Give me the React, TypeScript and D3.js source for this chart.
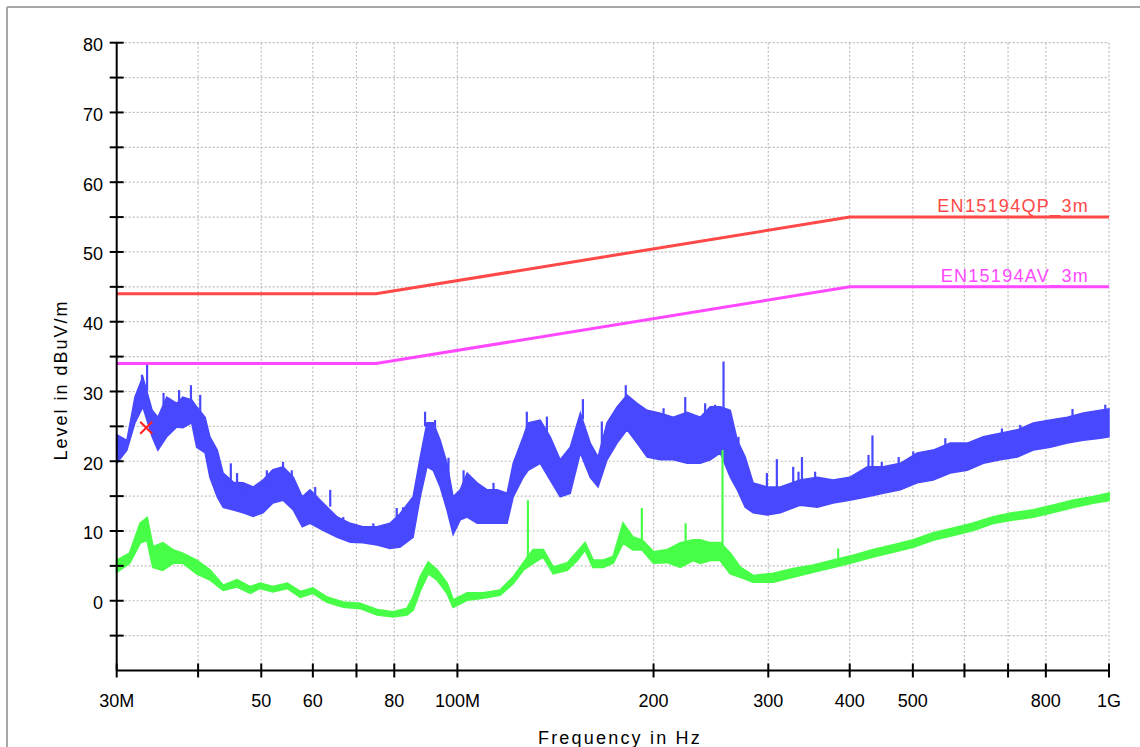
import * as d3 from "d3";

// frequency in MHz, level in dBuV/m
const qpLimit: [number, number][] = [[30, 44], [75, 44], [400, 55], [1000, 55]];
const avLimit: [number, number][] = [[30, 34], [75, 34], [400, 45], [1000, 45]];

// peak trace: [freq, low edge, high edge]
const peakBand: [number, number, number][] = [
  [30.0, 19.7, 23.8], [31.1, 21.6, 23.0], [32.0, 25.5, 29.2], [32.9, 27.8, 32.1],
  [34.0, 23.5, 27.3], [34.7, 21.6, 26.3], [35.8, 23.5, 29.2], [37.1, 24.9, 28.3],
  [37.9, 24.8, 29.2], [39.1, 25.5, 28.8], [39.8, 22.0, 27.8], [41.0, 21.2, 26.3],
  [41.7, 17.7, 23.5], [42.8, 14.9, 21.6], [43.7, 13.4, 18.3], [45.3, 13.0, 17.0],
  [46.9, 12.6, 16.9], [48.6, 12.1, 16.3], [50.3, 12.6, 17.3], [52.1, 14.0, 18.8],
  [54.0, 14.4, 19.2], [56.0, 13.0, 17.7], [57.8, 10.6, 14.9], [59.4, 11.1, 15.9],
  [62.2, 10.1, 14.0], [65.4, 9.1, 12.0], [68.5, 8.4, 11.1], [71.6, 8.3, 10.6],
  [75.3, 8.0, 10.6], [78.8, 7.5, 11.1], [81.7, 7.7, 12.5], [85.5, 9.1, 14.9],
  [87.7, 14.9, 20.6], [89.8, 19.2, 25.5], [91.8, 18.7, 25.5], [94.1, 16.3, 23.0],
  [96.4, 13.0, 19.7], [98.5, 9.5, 14.9], [101.0, 11.6, 15.9], [103.5, 12.0, 18.3],
  [107.2, 11.1, 16.9], [111.1, 11.1, 15.9], [115.1, 11.1, 15.9], [119.2, 11.1, 15.4],
  [121.8, 14.9, 19.7], [126.2, 17.7, 23.5], [128.4, 18.7, 25.5], [134.0, 19.7, 25.9],
  [138.8, 17.3, 23.5], [143.8, 14.9, 20.2], [149.0, 15.4, 22.0], [154.4, 21.2, 26.9],
  [159.9, 17.7, 22.6], [164.4, 16.3, 20.6], [169.7, 20.2, 25.5], [175.8, 22.6, 27.8],
  [182.1, 24.5, 29.5], [188.7, 22.6, 28.3], [195.5, 20.6, 27.3], [204.8, 20.2, 26.9],
  [214.4, 20.2, 26.3], [225.2, 19.7, 27.0], [235.9, 19.7, 26.3], [244.4, 20.2, 27.8],
  [253.2, 21.2, 27.8], [262.3, 17.7, 27.3], [268.9, 15.9, 23.0], [276.5, 13.4, 20.6],
  [284.4, 12.6, 16.9], [298.8, 12.3, 16.3], [313.0, 12.6, 16.3], [335.6, 13.7, 17.3],
  [356.8, 13.4, 17.7], [377.3, 14.0, 17.3], [400.0, 14.4, 17.7], [425.7, 14.9, 19.2],
  [450.3, 15.4, 19.2], [478.3, 15.9, 19.7], [507.9, 16.9, 21.2], [537.2, 17.3, 21.6],
  [570.6, 18.3, 22.6], [606.0, 18.7, 22.6], [641.3, 19.7, 23.5], [681.0, 20.2, 24.0],
  [723.3, 20.6, 24.5], [765.3, 21.6, 25.5], [812.7, 22.0, 25.9], [863.1, 22.6, 26.3],
  [913.3, 23.0, 26.9], [969.6, 23.3, 27.3], [1000, 23.5, 27.5],
];

// narrow peaks sticking out of the peak trace: [freq, base, top]
const peakSpikes: [number, number, number][] = [
  [32.8, 29, 32.4], [33.4, 30, 33.8], [35.4, 27, 29.8], [37.4, 28, 30.2],
  [39.0, 28, 30.9], [40.3, 26, 29.5], [44.9, 17, 19.7], [45.9, 16, 18.3],
  [47.5, 15, 16.6], [51.0, 17, 18.7], [54.0, 18.5, 19.9], [55.7, 17, 18.7],
  [60.5, 15, 16.3], [63.8, 13.5, 15.9], [66.8, 11, 12.0], [74.3, 10.3, 11.1],
  [80.7, 11.5, 13.3], [82.5, 12, 13.4], [89.2, 25, 27.1], [92.4, 24, 25.9],
  [96.9, 18, 20.5], [102.2, 16, 18.7], [113.6, 15.5, 16.9], [127.8, 24, 27.1],
  [137.2, 23, 26.4], [155.8, 26, 28.9], [166.6, 21, 25.7], [181.3, 29, 30.9],
  [207.2, 26, 27.6], [223.7, 26.5, 29.2], [240.0, 26.5, 28.3], [248.6, 27, 28.1],
  [256.1, 27, 34.3], [270.0, 22, 23.5], [298.5, 16, 18.3], [309.2, 16, 20.3],
  [327.6, 16.8, 19.2], [333.8, 17, 18.5], [337.9, 17, 20.6], [354.0, 17.5, 18.5],
  [427.5, 19, 20.9], [433.5, 19, 23.7], [448.0, 19, 19.9], [475.6, 19.7, 20.6],
  [500.8, 20, 21.4], [560.8, 22, 23.3], [685.0, 24, 24.7], [730.7, 24.5, 25.2],
  [808.0, 25.5, 25.7], [879, 26, 27.5], [987, 27, 28.1],
];

// average trace: [freq, low edge, high edge]
const avgBand: [number, number, number][] = [
  [30.0, 4.1, 5.8], [31.4, 5.4, 6.8], [32.6, 8.3, 11.1], [33.4, 8.7, 11.9],
  [34.1, 4.8, 7.7], [35.3, 4.4, 8.3], [36.6, 5.4, 7.3], [37.9, 5.4, 6.8],
  [39.8, 3.9, 5.8], [41.7, 3.0, 4.4], [43.7, 1.5, 2.2], [45.9, 2.0, 3.0],
  [48.1, 1.1, 2.0], [49.8, 1.8, 2.5], [52.1, 1.3, 2.0], [54.8, 1.8, 2.5],
  [57.4, 0.5, 1.3], [60.0, 1.1, 1.8], [63.1, -0.2, 0.5], [66.8, -0.9, -0.2],
  [70.9, -1.1, -0.4], [75.3, -2.0, -1.3], [79.7, -2.3, -1.6], [83.7, -2.0, -1.1],
  [85.5, -1.3, 0.5], [87.7, 1.5, 3.4], [90.2, 3.9, 5.5], [93.1, 3.0, 4.4],
  [96.4, 1.1, 2.5], [98.5, -0.9, 0.1], [103.5, 0.1, 1.1], [109.5, 0.4, 1.1],
  [116.3, 0.8, 1.5], [121.8, 2.5, 3.4], [126.2, 4.4, 5.4], [130.7, 5.4, 7.3],
  [135.4, 6.3, 7.3], [140.3, 3.9, 4.8], [147.4, 4.4, 5.4], [152.7, 5.8, 7.0],
  [157.0, 7.3, 8.3], [161.5, 4.8, 5.8], [167.4, 4.8, 5.8], [173.4, 5.4, 6.3],
  [179.6, 8.3, 11.1], [186.0, 7.3, 9.1], [192.1, 7.3, 8.7], [200.0, 5.4, 7.0],
  [209.9, 5.5, 7.3], [219.8, 4.8, 8.3], [230.0, 5.8, 8.7], [235.9, 5.4, 8.7],
  [244.4, 5.8, 8.3], [253.2, 5.8, 8.3], [262.3, 3.9, 6.8], [271.7, 3.4, 4.8],
  [284.4, 2.7, 3.6], [305.2, 2.7, 3.9], [327.6, 3.4, 4.6], [351.7, 4.1, 5.1],
  [377.3, 4.8, 5.8], [404.9, 5.5, 6.5], [434.6, 6.3, 7.3], [466.6, 7.0, 8.0],
  [500.8, 7.7, 8.7], [537.2, 8.7, 9.7], [576.6, 9.4, 10.4], [618.9, 10.1, 11.1],
  [664.3, 11.1, 12.0], [713.1, 11.6, 12.6], [765.3, 12.0, 13.0], [821.4, 12.7, 13.7],
  [881.5, 13.4, 14.4], [946.0, 14.0, 14.9], [1000, 14.4, 15.4],
];

const avgSpikes: [number, number, number][] = [
  [128.3, 5, 14.4], [191.9, 8.5, 13.3], [224, 8, 11.1], [255.2, 8, 21.6], [384, 5.5, 7.5],
];

const marker: [number, number] = [33.3, 24.8];

const xTicks = [30, 40, 50, 60, 70, 80, 100, 200, 300, 400, 500, 600, 700, 800, 1000];
const xTickLabels: Record<number, string> = {
  30: "30M", 50: "50", 60: "60", 80: "80", 100: "100M", 200: "200",
  300: "300", 400: "400", 500: "500", 800: "800", 1000: "1G",
};
const yTicks = d3.range(-5, 81, 5);
const yTickLabels = d3.range(0, 81, 10);

const W = 1140;
const H = 747;
const FONT = "'Liberation Sans', Arial, sans-serif";

export default function App() {
  const x = d3.scaleLog().domain([30, 1000]).range([116.7, 1109]);
  const y = d3.scaleLinear().domain([-10, 80]).range([670.5, 42.7]);
  const x0 = x.range()[0];
  const x1 = x.range()[1];
  const yTop = y(80);
  const yBot = y(-10);

  const band = d3
    .area<[number, number, number]>()
    .x((d) => x(d[0]))
    .y0((d) => y(d[1]))
    .y1((d) => y(d[2]));

  const line = d3
    .line<[number, number]>()
    .x((d) => x(d[0]))
    .y((d) => y(d[1]));

  const colors = {
    peak: "#4848ff",
    avg: "#48ff48",
    qp: "#ff4848",
    av: "#ff48ff",
  };

  return (
    <div style={{ position: "absolute", left: 0, top: 0 }}>
      <svg width={W} height={H} style={{ display: "block", background: "#fff" }}>
        {/* outer frame */}
        <line x1={7} y1={7} x2={W} y2={7} stroke="#a8a8a8" strokeWidth={2} />
        <line x1={7} y1={7} x2={7} y2={H} stroke="#a8a8a8" strokeWidth={2} />

        {/* grid */}
        {yTicks.map((t) => (
          <line key={"gy" + t} x1={x0} x2={x1} y1={y(t)} y2={y(t)}
            stroke="#bdbdbd" strokeWidth={1.2} strokeDasharray="2,2" />
        ))}
        {xTicks.slice(1).map((t) => (
          <line key={"gx" + t} x1={x(t)} x2={x(t)} y1={yTop} y2={yBot}
            stroke="#bdbdbd" strokeWidth={1.2} strokeDasharray="2,2" />
        ))}

        {/* limit lines */}
        <path d={line(qpLimit) || ""} fill="none" stroke={colors.qp} strokeWidth={3} />
        <path d={line(avLimit) || ""} fill="none" stroke={colors.av} strokeWidth={3} />
        <text x={1089} y={212} textAnchor="end" fontFamily={FONT} fontSize={18}
          letterSpacing={1.3} fill={colors.qp}>EN15194QP_3m</text>
        <text x={1089} y={282} textAnchor="end" fontFamily={FONT} fontSize={18}
          letterSpacing={1.3} fill={colors.av}>EN15194AV_3m</text>

        {/* peak trace */}
        <path d={band(peakBand) || ""} fill={colors.peak} stroke={colors.peak}
          strokeWidth={1.5} strokeLinejoin="miter" />
        {peakSpikes.map((s, i) => (
          <line key={"ps" + i} x1={x(s[0])} x2={x(s[0])} y1={y(s[1])} y2={y(s[2])}
            stroke={colors.peak} strokeWidth={2.2} />
        ))}

        {/* average trace */}
        <path d={band(avgBand) || ""} fill={colors.avg} stroke={colors.avg}
          strokeWidth={2} strokeLinejoin="miter" />
        {avgSpikes.map((s, i) => (
          <line key={"as" + i} x1={x(s[0])} x2={x(s[0])} y1={y(s[1])} y2={y(s[2])}
            stroke={colors.avg} strokeWidth={2.2} />
        ))}

        {/* final measurement marker */}
        <g transform={`translate(${x(marker[0])},${y(marker[1])})`} stroke="#ff2020" strokeWidth={2}>
          <line x1={-6} y1={-6} x2={6} y2={6} />
          <line x1={-6} y1={6} x2={6} y2={-6} />
        </g>

        {/* axes */}
        <line x1={x0} x2={x0} y1={yTop} y2={yBot} stroke="#000" strokeWidth={2} />
        <line x1={x0} x2={x1} y1={yBot} y2={yBot} stroke="#000" strokeWidth={2} />
        {yTicks.map((t) => (
          <line key={"ty" + t} x1={x0 - 7} x2={x0 + 7} y1={y(t)} y2={y(t)}
            stroke="#000" strokeWidth={2} />
        ))}
        {yTickLabels.map((t) => (
          <text key={"ly" + t} x={103} y={y(t) + 8.5} textAnchor="end"
            fontFamily={FONT} fontSize={18} fill="#000">{t}</text>
        ))}
        {xTicks.map((t) => (
          <line key={"tx" + t} x1={x(t)} x2={x(t)} y1={yBot - 7} y2={yBot + 7}
            stroke="#000" strokeWidth={2} />
        ))}
        {xTicks.filter((t) => xTickLabels[t]).map((t) => (
          <text key={"lx" + t} x={x(t)} y={707} textAnchor="middle"
            fontFamily={FONT} fontSize={18} fill="#000">{xTickLabels[t]}</text>
        ))}

        {/* axis titles */}
        <text x={620} y={744} textAnchor="middle" fontFamily={FONT} fontSize={18}
          letterSpacing={2.2} fill="#000">Frequency in Hz</text>
        <text transform={`translate(67,380) rotate(-90)`} textAnchor="middle"
          fontFamily={FONT} fontSize={18} letterSpacing={2} fill="#000">Level in dBuV/m</text>
      </svg>
    </div>
  );
}
